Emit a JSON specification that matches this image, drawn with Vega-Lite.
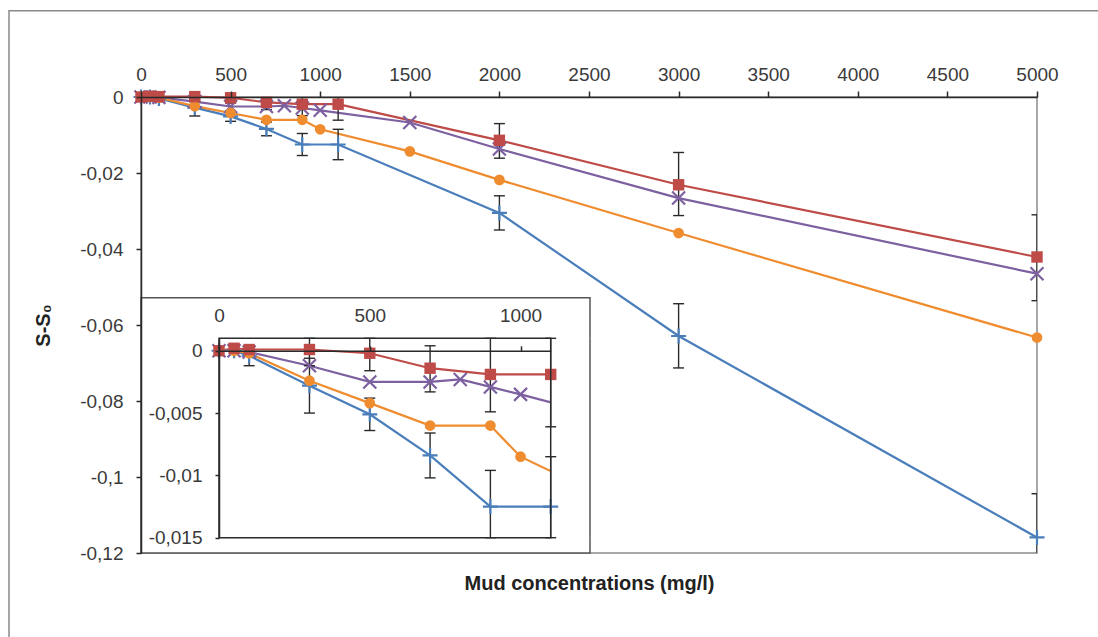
{
  "$schema": "https://vega.github.io/schema/vega-lite/v6.json",
  "width": 896,
  "height": 456,
  "autosize": {"type": "none"},
  "padding": {"left": 141, "top": 97, "right": 61, "bottom": 84},
  "background": "white",
  "config": {
    "view": {"stroke": "#8c8c8c", "strokeWidth": 1.5},
    "font": "Liberation Sans",
    "axis": {
      "labelFont": "Liberation Sans",
      "labelFontSize": 19,
      "labelColor": "#3a3a3a",
      "domainColor": "#2a2a2a",
      "domainWidth": 1.5,
      "tickColor": "#2a2a2a",
      "tickWidth": 1.5,
      "grid": false,
      "labelOverlap": false,
      "labelFlush": false
    }
  },
  "datasets": {
    "d": [
      {"s": "B", "x": 0, "y": 0},
      {"s": "B", "x": 50, "y": 0},
      {"s": "B", "x": 100, "y": -0.0004, "lo": -0.0012, "hi": 0.0004},
      {"s": "B", "x": 300, "y": -0.0028, "lo": -0.005, "hi": -0.0006},
      {"s": "B", "x": 500, "y": -0.0051, "lo": -0.0064, "hi": -0.0038},
      {"s": "B", "x": 700, "y": -0.0084, "lo": -0.0102, "hi": -0.0066},
      {"s": "B", "x": 900, "y": -0.0125, "lo": -0.0154, "hi": -0.0096},
      {"s": "B", "x": 1100, "y": -0.0125, "lo": -0.0165, "hi": -0.0085},
      {"s": "B", "x": 2000, "y": -0.0305, "lo": -0.035, "hi": -0.026},
      {"s": "B", "x": 3000, "y": -0.0629, "lo": -0.0713, "hi": -0.0544},
      {"s": "B", "x": 5000, "y": -0.1159, "lo": -0.1274, "hi": -0.1044},
      {"s": "R", "x": 0, "y": 0},
      {"s": "R", "x": 50, "y": 0.0002},
      {"s": "R", "x": 100, "y": 0.0001},
      {"s": "R", "x": 300, "y": 0.0001, "lo": -0.0012, "hi": 0.0014},
      {"s": "R", "x": 500, "y": -0.0002, "lo": -0.0016, "hi": 0.0011},
      {"s": "R", "x": 700, "y": -0.0014, "lo": -0.0033, "hi": 0.0004},
      {"s": "R", "x": 900, "y": -0.0019, "lo": -0.0049, "hi": 0.0011},
      {"s": "R", "x": 1100, "y": -0.0019, "lo": -0.0061, "hi": 0.0023},
      {"s": "R", "x": 2000, "y": -0.0114, "lo": -0.0161, "hi": -0.007},
      {"s": "R", "x": 3000, "y": -0.0231, "lo": -0.0312, "hi": -0.0146},
      {"s": "R", "x": 5000, "y": -0.0421, "lo": -0.0536, "hi": -0.031},
      {"s": "P", "x": 0, "y": 0},
      {"s": "P", "x": 50, "y": 0},
      {"s": "P", "x": 100, "y": -0.0001},
      {"s": "P", "x": 300, "y": -0.0012},
      {"s": "P", "x": 500, "y": -0.0025},
      {"s": "P", "x": 700, "y": -0.0025},
      {"s": "P", "x": 800, "y": -0.0023},
      {"s": "P", "x": 900, "y": -0.0029},
      {"s": "P", "x": 1000, "y": -0.0035},
      {"s": "P", "x": 1500, "y": -0.0067},
      {"s": "P", "x": 2000, "y": -0.0137},
      {"s": "P", "x": 3000, "y": -0.0266},
      {"s": "P", "x": 5000, "y": -0.0465},
      {"s": "O", "x": 0, "y": 0},
      {"s": "O", "x": 50, "y": 0},
      {"s": "O", "x": 100, "y": -0.0002},
      {"s": "O", "x": 300, "y": -0.0024},
      {"s": "O", "x": 500, "y": -0.0042},
      {"s": "O", "x": 700, "y": -0.006},
      {"s": "O", "x": 900, "y": -0.006},
      {"s": "O", "x": 1000, "y": -0.0085},
      {"s": "O", "x": 1500, "y": -0.0143},
      {"s": "O", "x": 2000, "y": -0.0218},
      {"s": "O", "x": 3000, "y": -0.0358},
      {"s": "O", "x": 5000, "y": -0.0633}
    ]
  },
  "data": {"name": "d"},
  "resolve": {"scale": {"x": "independent", "y": "independent"}},
  "layer": [
    {
      "data": {"values": [{}]},
      "mark": {"type": "rect", "fill": "transparent", "stroke": "#8a8a8a", "strokeWidth": 1.5},
      "encoding": {
        "x": {"datum": -736.6, "type": "quantitative", "scale": {"domain": [0, 5000], "nice": false, "zero": false}, "axis": null},
        "x2": {"datum": 7000},
        "y": {"datum": 0.0227, "type": "quantitative", "scale": {"domain": [-0.12, 0], "nice": false, "zero": false}, "axis": null},
        "y2": {"datum": -0.3}
      }
    },
    {
      "mark": {"type": "line", "strokeWidth": 2.2},
      "encoding": {
        "x": {"field": "x", "type": "quantitative", "scale": {"domain": [0, 5000], "nice": false, "zero": false},
          "axis": {"orient": "top", "values": [0, 500, 1000, 1500, 2000, 2500, 3000, 3500, 4000, 4500, 5000], "format": "d", "title": null, "tickSize": 6, "labelPadding": 7, "zindex": 1}},
        "y": {"field": "y", "type": "quantitative", "scale": {"domain": [-0.12, 0], "nice": false, "zero": false},
          "axis": {"orient": "left", "values": [0, -0.02, -0.04, -0.06, -0.08, -0.1, -0.12], "format": ".2~f", "labelExpr": "replace(replace(datum.label, '.', ','), '−', '-')", "title": "S-S₀", "titleFontSize": 20, "titleFontWeight": "bold", "titleColor": "#222222", "titleFont": "Liberation Sans", "titlePadding": 26, "tickSize": 5, "labelPadding": 13, "zindex": 1}},
        "color": {"field": "s", "type": "nominal", "scale": {"domain": ["B", "R", "P", "O"], "range": ["#4a7ebb", "#be4b48", "#7d60a0", "#ef8c2f"]}, "legend": null}
      }
    },
    {
      "transform": [{"filter": {"field": "lo", "valid": true}}],
      "mark": {"type": "rule", "color": "#2a2a2a", "strokeWidth": 1.4, "clip": true},
      "encoding": {
        "x": {"field": "x", "type": "quantitative", "scale": {"domain": [0, 5000], "nice": false, "zero": false},
          "axis": {"orient": "bottom", "labels": false, "ticks": false, "domain": false, "title": "Mud concentrations (mg/l)", "titleFontSize": 20, "titleFontWeight": "bold", "titleColor": "#222222", "titleFont": "Liberation Sans", "titlePadding": 20, "zindex": 1}},
        "y": {"field": "lo", "type": "quantitative", "scale": {"domain": [-0.12, 0], "nice": false, "zero": false}, "axis": null},
        "y2": {"field": "hi"}
      }
    },
    {
      "transform": [{"filter": {"field": "lo", "valid": true}}],
      "mark": {"type": "tick", "orient": "horizontal", "color": "#2a2a2a", "size": 11, "thickness": 1.4, "opacity": 1, "clip": true},
      "encoding": {
        "x": {"field": "x", "type": "quantitative", "scale": {"domain": [0, 5000], "nice": false, "zero": false}, "axis": null},
        "y": {"field": "lo", "type": "quantitative", "scale": {"domain": [-0.12, 0], "nice": false, "zero": false}, "axis": null}
      }
    },
    {
      "transform": [{"filter": {"field": "hi", "valid": true}}],
      "mark": {"type": "tick", "orient": "horizontal", "color": "#2a2a2a", "size": 11, "thickness": 1.4, "opacity": 1, "clip": true},
      "encoding": {
        "x": {"field": "x", "type": "quantitative", "scale": {"domain": [0, 5000], "nice": false, "zero": false}, "axis": null},
        "y": {"field": "hi", "type": "quantitative", "scale": {"domain": [-0.12, 0], "nice": false, "zero": false}, "axis": null}
      }
    },
    {
      "transform": [{"filter": "datum.s == 'B'"}],
      "mark": {"type": "point", "shape": "M-1,0H1M0,-1V1", "size": 225, "filled": false, "strokeWidth": 2.2, "color": "#4a7ebb", "opacity": 1},
      "encoding": {
        "x": {"field": "x", "type": "quantitative", "scale": {"domain": [0, 5000], "nice": false, "zero": false}, "axis": null},
        "y": {"field": "y", "type": "quantitative", "scale": {"domain": [-0.12, 0], "nice": false, "zero": false}, "axis": null}
      }
    },
    {
      "transform": [{"filter": "datum.s == 'P'"}],
      "mark": {"type": "point", "shape": "M-1,-1L1,1M-1,1L1,-1", "size": 169, "filled": false, "strokeWidth": 2.2, "color": "#7d60a0", "opacity": 1},
      "encoding": {
        "x": {"field": "x", "type": "quantitative", "scale": {"domain": [0, 5000], "nice": false, "zero": false}, "axis": null},
        "y": {"field": "y", "type": "quantitative", "scale": {"domain": [-0.12, 0], "nice": false, "zero": false}, "axis": null}
      }
    },
    {
      "transform": [{"filter": "datum.s == 'O'"}],
      "mark": {"type": "point", "shape": "circle", "size": 115, "filled": true, "color": "#ef8c2f", "opacity": 1},
      "encoding": {
        "x": {"field": "x", "type": "quantitative", "scale": {"domain": [0, 5000], "nice": false, "zero": false}, "axis": null},
        "y": {"field": "y", "type": "quantitative", "scale": {"domain": [-0.12, 0], "nice": false, "zero": false}, "axis": null}
      }
    },
    {
      "transform": [{"filter": "datum.s == 'R'"}],
      "mark": {"type": "point", "shape": "square", "size": 130, "filled": true, "color": "#be4b48", "opacity": 1},
      "encoding": {
        "x": {"field": "x", "type": "quantitative", "scale": {"domain": [0, 5000], "nice": false, "zero": false}, "axis": null},
        "y": {"field": "y", "type": "quantitative", "scale": {"domain": [-0.12, 0], "nice": false, "zero": false}, "axis": null}
      }
    },
    {
      "data": {"values": [{}]},
      "mark": {"type": "rect", "fill": "white", "stroke": "#555555", "strokeWidth": 1.5},
      "encoding": {
        "x": {"datum": 0, "type": "quantitative", "scale": {"domain": [0, 5000], "nice": false, "zero": false}, "axis": null},
        "x2": {"datum": 2505.6},
        "y": {"datum": -0.0528, "type": "quantitative", "scale": {"domain": [-0.12, 0], "nice": false, "zero": false}, "axis": null},
        "y2": {"datum": -0.12}
      }
    },
    {
      "transform": [{"filter": "datum.x <= 1500"}],
      "mark": {"type": "line", "strokeWidth": 2.2},
      "encoding": {
        "x": {"field": "x", "type": "quantitative", "scale": {"domain": [0, 1100], "range": [78, 409.7], "nice": false, "zero": false},
          "axis": {"orient": "top", "offset": -253.8, "values": [0, 500, 1000], "format": "d", "title": null, "tickSize": 5, "labelPadding": 20, "zindex": 2}},
        "y": {"field": "y", "type": "quantitative", "scale": {"domain": [-0.015, 0.001], "range": [440.7, 241.3], "clamp": true, "nice": false, "zero": false},
          "axis": {"orient": "left", "offset": -78, "values": [0, -0.005, -0.01, -0.015], "format": ".3~f", "labelExpr": "replace(replace(datum.label, '.', ','), '−', '-')", "title": null, "tickSize": 4, "labelPadding": 13, "zindex": 2}},
        "color": {"field": "s", "type": "nominal", "scale": {"domain": ["B", "R", "P", "O"], "range": ["#4a7ebb", "#be4b48", "#7d60a0", "#ef8c2f"]}, "legend": null}
      }
    },
    {
      "data": {"values": [{}]},
      "mark": {"type": "rect", "fill": "white", "strokeWidth": 0},
      "encoding": {
        "x": {"datum": 1101, "type": "quantitative", "scale": {"domain": [0, 1100], "range": [78, 409.7], "nice": false, "zero": false}, "axis": null},
        "x2": {"datum": 1505},
        "y": {"datum": 0.001, "type": "quantitative", "scale": {"domain": [-0.015, 0.001], "range": [440.7, 241.3], "clamp": true, "nice": false, "zero": false}, "axis": null},
        "y2": {"datum": -0.015}
      }
    },
    {
      "transform": [{"filter": {"field": "lo", "valid": true}}, {"filter": "datum.x <= 1100"}],
      "mark": {"type": "rule", "color": "#2a2a2a", "strokeWidth": 1.4},
      "encoding": {
        "x": {"field": "x", "type": "quantitative", "scale": {"domain": [0, 1100], "range": [78, 409.7], "nice": false, "zero": false}, "axis": null},
        "y": {"field": "lo", "type": "quantitative", "scale": {"domain": [-0.015, 0.001], "range": [440.7, 241.3], "clamp": true, "nice": false, "zero": false}, "axis": null},
        "y2": {"field": "hi"}
      }
    },
    {
      "transform": [{"filter": {"field": "lo", "valid": true}}, {"filter": "datum.x <= 1100"}],
      "mark": {"type": "tick", "orient": "horizontal", "color": "#2a2a2a", "size": 11, "thickness": 1.4, "opacity": 1},
      "encoding": {
        "x": {"field": "x", "type": "quantitative", "scale": {"domain": [0, 1100], "range": [78, 409.7], "nice": false, "zero": false}, "axis": null},
        "y": {"field": "lo", "type": "quantitative", "scale": {"domain": [-0.015, 0.001], "range": [440.7, 241.3], "clamp": true, "nice": false, "zero": false}, "axis": null}
      }
    },
    {
      "transform": [{"filter": {"field": "hi", "valid": true}}, {"filter": "datum.x <= 1100"}],
      "mark": {"type": "tick", "orient": "horizontal", "color": "#2a2a2a", "size": 11, "thickness": 1.4, "opacity": 1},
      "encoding": {
        "x": {"field": "x", "type": "quantitative", "scale": {"domain": [0, 1100], "range": [78, 409.7], "nice": false, "zero": false}, "axis": null},
        "y": {"field": "hi", "type": "quantitative", "scale": {"domain": [-0.015, 0.001], "range": [440.7, 241.3], "clamp": true, "nice": false, "zero": false}, "axis": null}
      }
    },
    {
      "transform": [{"filter": "datum.s == 'B' && datum.x <= 1100"}],
      "mark": {"type": "point", "shape": "M-1,0H1M0,-1V1", "size": 225, "filled": false, "strokeWidth": 2.2, "color": "#4a7ebb", "opacity": 1},
      "encoding": {
        "x": {"field": "x", "type": "quantitative", "scale": {"domain": [0, 1100], "range": [78, 409.7], "nice": false, "zero": false}, "axis": null},
        "y": {"field": "y", "type": "quantitative", "scale": {"domain": [-0.015, 0.001], "range": [440.7, 241.3], "clamp": true, "nice": false, "zero": false}, "axis": null}
      }
    },
    {
      "transform": [{"filter": "datum.s == 'P' && datum.x <= 1100"}],
      "mark": {"type": "point", "shape": "M-1,-1L1,1M-1,1L1,-1", "size": 169, "filled": false, "strokeWidth": 2.2, "color": "#7d60a0", "opacity": 1},
      "encoding": {
        "x": {"field": "x", "type": "quantitative", "scale": {"domain": [0, 1100], "range": [78, 409.7], "nice": false, "zero": false}, "axis": null},
        "y": {"field": "y", "type": "quantitative", "scale": {"domain": [-0.015, 0.001], "range": [440.7, 241.3], "clamp": true, "nice": false, "zero": false}, "axis": null}
      }
    },
    {
      "transform": [{"filter": "datum.s == 'O' && datum.x <= 1100"}],
      "mark": {"type": "point", "shape": "circle", "size": 115, "filled": true, "color": "#ef8c2f", "opacity": 1},
      "encoding": {
        "x": {"field": "x", "type": "quantitative", "scale": {"domain": [0, 1100], "range": [78, 409.7], "nice": false, "zero": false}, "axis": null},
        "y": {"field": "y", "type": "quantitative", "scale": {"domain": [-0.015, 0.001], "range": [440.7, 241.3], "clamp": true, "nice": false, "zero": false}, "axis": null}
      }
    },
    {
      "transform": [{"filter": "datum.s == 'R' && datum.x <= 1100"}],
      "mark": {"type": "point", "shape": "square", "size": 130, "filled": true, "color": "#be4b48", "opacity": 1},
      "encoding": {
        "x": {"field": "x", "type": "quantitative", "scale": {"domain": [0, 1100], "range": [78, 409.7], "nice": false, "zero": false}, "axis": null},
        "y": {"field": "y", "type": "quantitative", "scale": {"domain": [-0.015, 0.001], "range": [440.7, 241.3], "clamp": true, "nice": false, "zero": false}, "axis": null}
      }
    },
    {
      "data": {"values": [{}]},
      "mark": {"type": "rule", "color": "#555555", "strokeWidth": 1.5},
      "encoding": {
        "x": {"datum": 1230.3, "type": "quantitative", "scale": {"domain": [0, 1100], "range": [78, 409.7], "nice": false, "zero": false}, "axis": null},
        "y": {"datum": 0.001, "type": "quantitative", "scale": {"domain": [-0.015, 0.001], "range": [440.7, 241.3], "clamp": true, "nice": false, "zero": false}, "axis": null},
        "y2": {"datum": -0.015}
      }
    },
    {
      "data": {"values": [{}]},
      "mark": {"type": "rect", "fill": "transparent", "stroke": "#2a2a2a", "strokeWidth": 1.5},
      "encoding": {
        "x": {"datum": 0, "type": "quantitative", "scale": {"domain": [0, 1100], "range": [78, 409.7], "nice": false, "zero": false}, "axis": null},
        "x2": {"datum": 1100},
        "y": {"datum": 0.001, "type": "quantitative", "scale": {"domain": [-0.015, 0.001], "range": [440.7, 241.3], "clamp": true, "nice": false, "zero": false}, "axis": null},
        "y2": {"datum": -0.015}
      }
    }
  ]
}
